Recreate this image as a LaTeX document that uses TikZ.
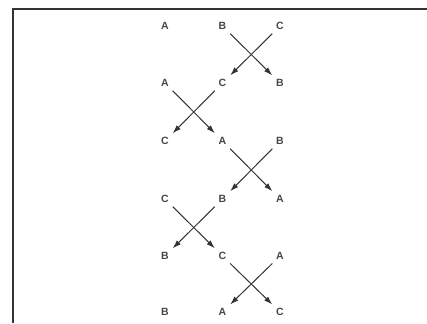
\documentclass[tikz,border=0pt]{standalone}
\usepackage{fontspec}
\setmainfont{Liberation Sans}
\usetikzlibrary{arrows.meta}
\definecolor{ink}{HTML}{333336}
\tikzset{
  lt/.style={rectangle, minimum width=15pt, minimum height=15pt, inner sep=0pt,
             font=\fontsize{10.5}{11}\selectfont\bfseries, text=ink!90},
  swap/.style={draw=ink, line width=1pt, -{Latex[length=8.5pt,width=5.5pt]}},
  frameline/.style={draw=ink, line width=1.1pt}
}
\begin{document}
\begin{tikzpicture}[x=1pt,y=1pt]
\useasboundingbox (0,0) rectangle (427,323);
\coordinate (fb) at (13,0);
\coordinate (fc) at (13,314);
\coordinate (fr) at (427,314);
\draw[frameline] (fb) -- (fc) -- (fr);
% row 1
\node[lt] (a1) at (165,297) {A};
\node[lt] (b1) at (222.5,297) {B};
\node[lt] (c1) at (280,297) {C};
% row 2
\node[lt] (a2) at (165,240) {A};
\node[lt] (b2) at (222.5,240) {C};
\node[lt] (c2) at (280,240) {B};
% row 3
\node[lt] (a3) at (165,182) {C};
\node[lt] (b3) at (222.5,182) {A};
\node[lt] (c3) at (280,182) {B};
% row 4
\node[lt] (a4) at (165,124) {C};
\node[lt] (b4) at (222.5,124) {B};
\node[lt] (c4) at (280,124) {A};
% row 5
\node[lt] (a5) at (165,67) {B};
\node[lt] (b5) at (222.5,67) {C};
\node[lt] (c5) at (280,67) {A};
% row 6
\node[lt] (a6) at (165,11) {B};
\node[lt] (b6) at (222.5,11) {A};
\node[lt] (c6) at (280,11) {C};
% swaps
\draw[swap] (b1) -- (c2);
\draw[swap] (c1) -- (b2);
\draw[swap] (a2) -- (b3);
\draw[swap] (b2) -- (a3);
\draw[swap] (b3) -- (c4);
\draw[swap] (c3) -- (b4);
\draw[swap] (a4) -- (b5);
\draw[swap] (b4) -- (a5);
\draw[swap] (b5) -- (c6);
\draw[swap] (c5) -- (b6);
\end{tikzpicture}
\end{document}
